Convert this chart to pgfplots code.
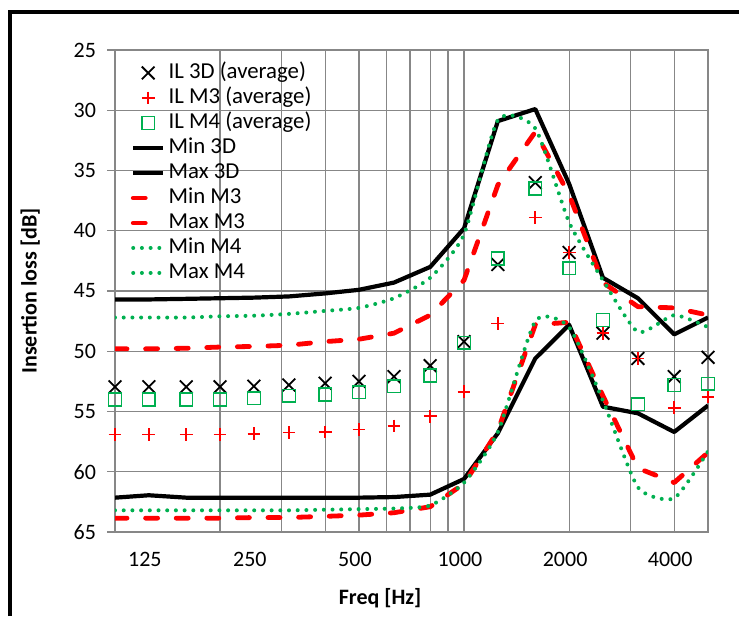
\documentclass[border=0pt]{standalone}
\usepackage{pgfplots}
\usepackage{pgfplotstable}
\pgfplotsset{compat=1.18}
\usepackage{fontspec}
\setmainfont{Carlito}
\definecolor{exred}{RGB}{255,0,0}
\definecolor{exgreen}{RGB}{0,176,80}
\definecolor{gridgray}{RGB}{135,135,135}
\pgfplotsset{
  linelegend/.style={legend image code/.code={\draw[##1] (0pt,0pt) -- (15pt,0pt);}},
  marklegend/.style={legend image code/.code={\draw[##1] plot coordinates {(7.5pt,0pt)};}},
}

\pgfplotstableread{
f IL3D ILM3 ILM4 Min3D Max3D MinM3 MaxM3 MinM4 MaxM4
100  52.95 56.9  54.0 62.15 45.7  63.85 49.8  63.2  47.2
125  52.95 56.9  54.0 61.95 45.7  63.85 49.8  63.2  47.2
160  52.95 56.9  54.0 62.15 45.65 63.85 49.75 63.2  47.2
200  52.95 56.9  54.0 62.15 45.6  63.85 49.65 63.2  47.1
250  52.9  56.85 53.9 62.15 45.55 63.8  49.6  63.2  47.05
315  52.8  56.75 53.7 62.15 45.45 63.8  49.5  63.2  46.9
400  52.65 56.7  53.6 62.15 45.2  63.7  49.2  63.15 46.65
500  52.5  56.5  53.4 62.15 44.9  63.6  49.0  63.1  46.4
630  52.1  56.2  52.9 62.1  44.3  63.4  48.5  63.05 45.6
800  51.2  55.4  52.0 61.9  43.0  62.9  47.0  62.8  43.9
1000 49.2  53.35 49.3 60.6  39.8  61.0  44.1  60.9  40.3
1250 42.8  47.7  42.3 56.8  30.9  56.6  36.2  56.7  30.8
1600 36.0  38.9  36.5 50.6  29.9  47.8  31.8  47.5  31.5
2000 41.8  41.8  43.1 47.8  36.1  47.6  37.0  48.0  39.3
2500 48.5  48.5  47.4 54.6  43.9  53.7  44.3  54.1  44.1
3150 50.6  50.6  54.4 55.15 45.6  59.7  46.3  61.3  48.4
4000 52.1  54.7  52.8 56.7  48.6  60.9  46.4  62.2  47.0
5000 50.5  53.8  52.7 54.5  47.2  58.4  47.0  58.3  48.0
}\data

\begin{document}
\begin{tikzpicture}
\useasboundingbox (0,0) rectangle (369.5pt,308pt);
\draw[line width=2pt] (5pt,0) -- (5pt,301.75pt) -- (369.5pt,301.75pt);
\begin{axis}[
  at={(57.5pt,42pt)}, anchor=south west,
  scale only axis, width=296.5pt, height=241pt,
  xmode=log, xmin=100, xmax=5000,
  y dir=reverse, ymin=25, ymax=65,
  ytick={25,30,35,40,45,50,55,60,65},
  xtick={125,250,500,1000,2000,4000},
  xticklabels={125,250,500,1000,2000,4000},
  minor xtick={100,200,300,400,500,600,700,800,900,1000,2000,3000,4000,5000},
  xminorgrids=true, xmajorgrids=false, ymajorgrids=true,
  grid style={gridgray, line width=0.6pt},
  minor grid style={gridgray, line width=0.6pt},
  axis line style={gridgray, line width=0.6pt},
  tick style={gridgray, line width=0.6pt},
  tick align=outside, ytick pos=left, xtick pos=bottom,
  major tick length=4pt, minor tick length=0pt,
  xtick style={draw=none},
  /pgf/number format/assume math mode=true,
  tick label style={font=\fontsize{11}{13}\selectfont, black},
  yticklabel style={xshift=-2pt},
  xticklabel style={yshift=-2.5pt, xshift=-2pt},
  xlabel={\textbf{Freq [Hz]}},
  ylabel={\textbf{Insertion loss [dB]}},
  label style={font=\fontsize{11}{13}\selectfont},
  xlabel style={at={(axis description cs:0.447,-0.137)}, anchor=center},
  ylabel style={at={(axis description cs:-0.143,0.5)}, anchor=center},
  legend cell align=left,
  legend style={draw=none, fill=none, at={(axis description cs:0.026,0.975)}, anchor=north west,
    font=\fontsize{11.4}{13}\selectfont, row sep=2pt, inner sep=0pt,
    nodes={inner xsep=1.5pt, inner ysep=0pt, text height=8pt, text depth=2.5pt}},
  linelegend,
]
\addplot[only marks, mark=x, mark size=4.5pt, black, line width=0.9pt, marklegend] table[x=f,y=IL3D] {\data};
\addlegendentry{IL 3D (average)}
\addplot[only marks, mark=+, mark size=3.2pt, exred, line width=0.9pt, marklegend] table[x=f,y=ILM3] {\data};
\addlegendentry{IL M3 (average)}
\addplot[only marks, mark=square, mark size=3.2pt, exgreen, line width=0.8pt, marklegend] table[x=f,y=ILM4] {\data};
\addlegendentry{IL M4 (average)}
\addplot[black, line width=2.1pt, line join=round] table[x=f,y=Min3D] {\data};
\addlegendentry{Min 3D}
\addplot[black, line width=2.1pt, line join=round] table[x=f,y=Max3D] {\data};
\addlegendentry{Max 3D}
\addplot[exred, line width=2.4pt, line cap=round, line join=round, dash pattern=on 6pt off 9.3pt] table[x=f,y=MinM3] {\data};
\addlegendentry{Min M3}
\addplot[exred, line width=2.4pt, line cap=round, line join=round, dash pattern=on 6pt off 9.3pt] table[x=f,y=MaxM3] {\data};
\addlegendentry{Max M3}
\addplot[exgreen, smooth, tension=0.35, line width=2pt, line cap=round, dash pattern=on 0pt off 4.35pt] table[x=f,y=MinM4] {\data};
\addlegendentry{Min M4}
\addplot[exgreen, smooth, tension=0.35, line width=2pt, line cap=round, dash pattern=on 0pt off 4.35pt] table[x=f,y=MaxM4] {\data};
\addlegendentry{Max M4}
\end{axis}
\end{tikzpicture}
\end{document}
